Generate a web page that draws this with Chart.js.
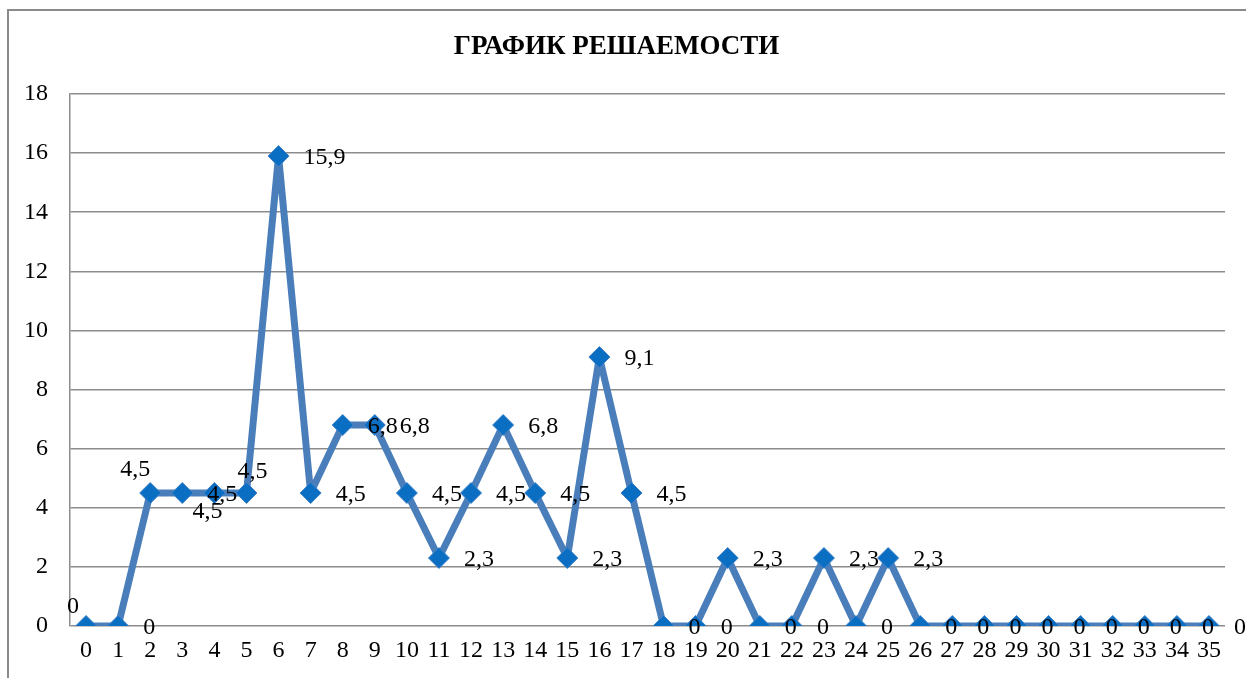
<!DOCTYPE html>
<html lang="ru">
<head>
<meta charset="utf-8">
<title>График решаемости</title>
<script src="https://cdn.jsdelivr.net/npm/chart.js@4/dist/chart.umd.min.js"></script>
<style>
  html, body { margin: 0; padding: 0; background: #ffffff; overflow: hidden; }
  #wrap { position: relative; width: 1246px; height: 678px; }
  canvas { display: block; }
  .preload { position: absolute; left: -9999px; top: 0; font-family: "Liberation Serif", serif; font-size: 24px; }
</style>
</head>
<body>
<span class="preload">0123456789,</span><span class="preload" style="font-weight:bold">ГРАФИК РЕШАЕМОСТИ</span>
<div id="wrap"><canvas id="chart" width="1246" height="678"></canvas></div>
<script>
// Task numbers along the x axis
const taskNumbers = ['0','1','2','3','4','5','6','7','8','9','10','11','12','13','14','15','16','17',
  '18','19','20','21','22','23','24','25','26','27','28','29','30','31','32','33','34','35'];

// Share of solved answers per task
const solvedShare = [0, 0, 4.5, 4.5, 4.5, 4.5, 15.9, 4.5, 6.8, 6.8, 4.5, 2.3, 4.5, 6.8, 4.5, 2.3, 9.1, 4.5,
  0, 0, 2.3, 0, 0, 2.3, 0, 2.3, 0, 0, 0, 0, 0, 0, 0, 0, 0, 0];

// Value axis ticks
const yTicks = [0, 2, 4, 6, 8, 10, 12, 14, 16, 18];

const chartTitle = 'ГРАФИК РЕШАЕМОСТИ';

const SERIF = '"Liberation Serif", "Times New Roman", serif';
const GRID = '#8c8c8c';
const TEXT_SIZE = 24;

// Labels that sit above/below their point instead of to the right (dx, dy from the point centre)
const labelOverrides = { 0: [-13, -21], 2: [-15, -25], 4: [-7, 17], 5: [6, -23] };

const frame = {
  id: 'frame',
  beforeDraw(chart) {
    const ctx = chart.ctx;
    ctx.save();
    ctx.fillStyle = '#ffffff';
    ctx.fillRect(0, 0, chart.width, chart.height);
    ctx.strokeStyle = '#8a8a8a';
    ctx.lineWidth = 2;
    ctx.strokeRect(8, 10, chart.width + 20, chart.height + 20);
    ctx.restore();
  }
};

const valueLabels = {
  id: 'valueLabels',
  afterDatasetsDraw(chart) {
    const ctx = chart.ctx;
    const meta = chart.getDatasetMeta(0);
    const values = chart.data.datasets[0].data;
    ctx.save();
    ctx.font = TEXT_SIZE + 'px ' + SERIF;
    ctx.fillStyle = '#000000';
    ctx.textBaseline = 'middle';
    meta.data.forEach((pt, i) => {
      const text = String(values[i]).replace('.', ',');
      const o = labelOverrides[i];
      if (o) {
        ctx.textAlign = 'center';
        ctx.fillText(text, pt.x + o[0], pt.y + o[1] + 2);
      } else {
        ctx.textAlign = 'left';
        ctx.fillText(text, pt.x + 25, pt.y + 2);
      }
    });
    ctx.restore();
  }
};

function draw() {
  new Chart(document.getElementById('chart'), {
    type: 'line',
    data: {
      labels: taskNumbers,
      datasets: [{
        data: solvedShare,
        borderColor: '#4a7ebb',
        borderWidth: 7,
        borderJoinStyle: 'round',
        borderCapStyle: 'round',
        tension: 0,
        fill: false,
        pointStyle: 'rectRot',
        pointRadius: 10.5,
        pointBackgroundColor: '#0a6ec2',
        pointBorderColor: '#3d7fc6',
        pointBorderWidth: 1
      }]
    },
    options: {
      responsive: false,
      animation: false,
      layout: { padding: { left: 8, right: 21, top: 10, bottom: 0 } },
      plugins: {
        legend: { display: false },
        tooltip: { enabled: false },
        title: {
          display: true,
          text: chartTitle,
          color: '#000000',
          font: { family: SERIF, size: 27, weight: 'bold', lineHeight: 1.2 },
          padding: { top: 21, bottom: 30.6 }
        }
      },
      scales: {
        x: {
          type: 'category',
          offset: true,
          grid: { display: false, drawTicks: false },
          border: { display: false },
          ticks: {
            color: '#000000',
            font: { family: SERIF, size: TEXT_SIZE },
            padding: 10.6,
            maxRotation: 0,
            autoSkip: false
          },
          afterFit(scale) { scale.height = 52; }
        },
        y: {
          min: 0,
          max: 18,
          afterBuildTicks(scale) { scale.ticks = yTicks.map(v => ({ value: v })); },
          grid: { color: GRID, lineWidth: 1.5, drawTicks: false },
          border: { display: true, color: GRID, width: 1.5 },
          ticks: {
            color: '#000000',
            font: { family: SERIF, size: TEXT_SIZE },
            padding: 22
          },
          afterFit(scale) { scale.width = 62; }
        }
      }
    },
    plugins: [frame, valueLabels]
  });
}

// Make sure the serif faces are ready before the canvas text is drawn
Promise.all([
  document.fonts.load(TEXT_SIZE + 'px "Liberation Serif"'),
  document.fonts.load('bold 27px "Liberation Serif"')
]).then(draw, draw);
</script>
</body>
</html>
